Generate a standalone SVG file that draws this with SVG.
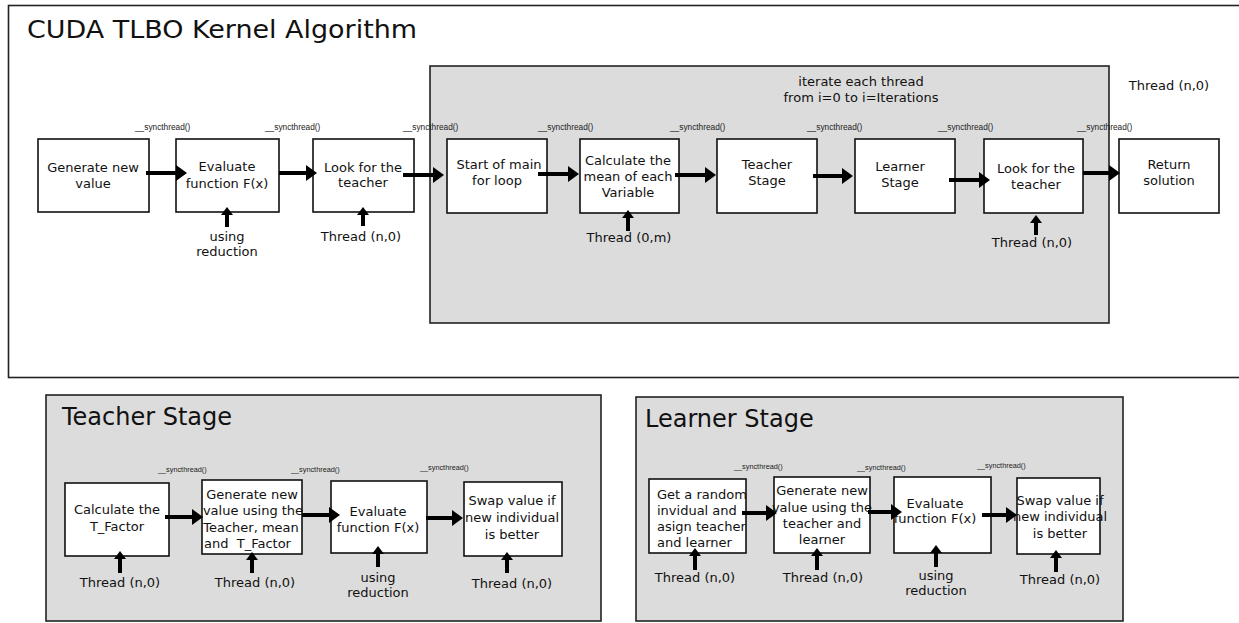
<svg xmlns="http://www.w3.org/2000/svg" width="1239" height="623" viewBox="0 0 1239 623">
<style>
.frame{fill:#fff;stroke:#222;stroke-width:1.6}
.panel{fill:#dcdcdc;stroke:#222;stroke-width:1.6}
.box{fill:#fff;stroke:#111;stroke-width:1.6}
.t{font-family:"DejaVu Sans",Verdana,sans-serif;font-size:13px;fill:#111;text-anchor:middle}
.tl{font-family:"DejaVu Sans",Verdana,sans-serif;font-size:13px;fill:#111;white-space:pre}
.big{font-family:"DejaVu Sans",Verdana,sans-serif;font-size:24px;fill:#111}
.s{font-family:"Liberation Sans",Arial,sans-serif;font-size:8.3px;fill:#222}
.ss{font-family:"Liberation Sans",Arial,sans-serif;font-size:7.3px;fill:#222}
.ar{stroke:#000;stroke-width:4;fill:none;marker-end:url(#ah)}
.up{stroke:#000;stroke-width:4;fill:none;marker-end:url(#uh)}
</style>
<defs>
<marker id="ah" markerUnits="userSpaceOnUse" markerWidth="11" markerHeight="16" refX="0" refY="8" orient="auto"><path d="M0,0 L11,8 L0,16 z" fill="#000"/></marker>
<marker id="uh" markerUnits="userSpaceOnUse" markerWidth="8" markerHeight="12" refX="0" refY="6" orient="auto"><path d="M0,0 L8,6 L0,12 z" fill="#000"/></marker>
</defs>
<rect class="frame" x="8.5" y="5.5" width="1232" height="372"/>
<text class="big" x="27" y="38" font-size="25" textLength="390" lengthAdjust="spacingAndGlyphs">CUDA TLBO Kernel Algorithm</text>
<g id="loop"><rect class="panel" x="430" y="66" width="679" height="257"/>
<text class="t" x="861" y="86">iterate each thread</text>
<text class="t" x="861" y="102">from i=0 to i=Iterations</text></g>
<text class="t" x="1169" y="90">Thread (n,0)</text>
<g id="n1"><rect class="box" x="38" y="139" width="111" height="73"/><text class="t" x="93" y="172">Generate new</text><text class="t" x="93" y="188">value</text></g>
<g id="n2"><rect class="box" x="176" y="139" width="103" height="73"/><text class="t" x="227" y="171">Evaluate</text><text class="t" x="227" y="188">function F(x)</text></g>
<g id="n3"><rect class="box" x="313" y="139" width="101" height="73"/><text class="t" x="363" y="172">Look for the</text><text class="t" x="363" y="187">teacher</text></g>
<g id="n4"><rect class="box" x="447" y="139" width="100" height="74"/><text class="t" x="499" y="169">Start of main</text><text class="t" x="497" y="185">for loop</text></g>
<g id="n5"><rect class="box" x="580" y="139" width="99" height="74"/><text class="t" x="628" y="165">Calculate the</text><text class="t" x="628" y="181">mean of each</text><text class="t" x="628" y="197">Variable</text></g>
<g id="n6"><rect class="box" x="717" y="139" width="100" height="74"/><text class="t" x="767" y="169">Teacher</text><text class="t" x="767" y="185">Stage</text></g>
<g id="n7"><rect class="box" x="855" y="139" width="100" height="74"/><text class="t" x="900" y="171">Learner</text><text class="t" x="900" y="187">Stage</text></g>
<g id="n8"><rect class="box" x="984" y="139" width="99" height="74"/><text class="t" x="1036" y="173">Look for the</text><text class="t" x="1036" y="189">teacher</text></g>
<g id="n9"><rect class="box" x="1119" y="139" width="100" height="74"/><text class="t" x="1169" y="169">Return</text><text class="t" x="1169" y="185">solution</text></g>
<g id="labels-main">
<text class="t" x="227" y="241">using</text><text class="t" x="227" y="256">reduction</text>
<text class="t" x="361" y="241">Thread (n,0)</text>
<text class="t" x="629" y="242">Thread (0,m)</text>
<text class="t" x="1032" y="247">Thread (n,0)</text>
<text class="s" x="135" y="130">__syncthread()</text>
<text class="s" x="265" y="130">__syncthread()</text>
<text class="s" x="403" y="130">__syncthread()</text>
<text class="s" x="538" y="130">__syncthread()</text>
<text class="s" x="670" y="130">__syncthread()</text>
<text class="s" x="807" y="130">__syncthread()</text>
<text class="s" x="938" y="130">__syncthread()</text>
<text class="s" x="1077" y="130">__syncthread()</text>
</g>
<g id="teacher-panel"><rect class="panel" x="46" y="395" width="555" height="226"/>
<text class="big" x="62" y="425">Teacher Stage</text></g>
<g id="t1"><rect class="box" x="65" y="483" width="104" height="73"/><text class="t" x="117" y="514">Calculate the</text><text class="t" x="117" y="531">T_Factor</text></g>
<g id="t2"><rect class="box" x="202" y="480" width="100" height="74"/><text class="t" x="252" y="499">Generate new</text><text class="t" x="253" y="515">value using the</text><text class="t" x="251" y="532">Teacher, mean</text><text class="tl" x="204" y="548" xml:space="preserve">and  T_Factor</text></g>
<g id="t3"><rect class="box" x="331" y="481" width="96" height="72"/><text class="t" x="378" y="516">Evaluate</text><text class="t" x="378" y="532">function F(x)</text></g>
<g id="t4"><rect class="box" x="464" y="482" width="98" height="74"/><text class="t" x="512" y="505">Swap value if</text><text class="t" x="512" y="522">new individual</text><text class="t" x="512" y="539">is better</text></g>
<g id="labels-teacher">
<text class="t" x="120" y="587">Thread (n,0)</text>
<text class="t" x="255" y="587">Thread (n,0)</text>
<text class="t" x="378" y="582">using</text><text class="t" x="378" y="597">reduction</text>
<text class="t" x="512" y="588">Thread (n,0)</text>
<text class="ss" x="158" y="472">__syncthread()</text>
<text class="ss" x="291" y="472">__syncthread()</text>
<text class="ss" x="420" y="470">__syncthread()</text>
</g>
<g id="learner-panel"><rect class="panel" x="636" y="397" width="487" height="224"/>
<text class="big" x="645" y="427">Learner Stage</text></g>
<g id="l1"><rect class="box" x="649" y="479" width="97" height="74"/><text class="tl" x="657" y="499">Get a random</text><text class="tl" x="657" y="515">invidual and</text><text class="tl" x="657" y="531">asign teacher</text><text class="tl" x="657" y="547">and learner</text></g>
<g id="l2"><rect class="box" x="774" y="477" width="96" height="76"/><text class="t" x="822" y="495">Generate new</text><text class="t" x="822" y="512">value using the</text><text class="t" x="822" y="528">teacher and</text><text class="t" x="822" y="544">learner</text></g>
<g id="l3"><rect class="box" x="894" y="477" width="97" height="76"/><text class="t" x="935" y="508">Evaluate</text><text class="t" x="935" y="523">function F(x)</text></g>
<g id="l4"><rect class="box" x="1017" y="478" width="83" height="76"/><text class="t" x="1060" y="505">Swap value if</text><text class="t" x="1060" y="521">new individual</text><text class="t" x="1060" y="538">is better</text></g>
<g id="labels-learner">
<text class="t" x="695" y="582">Thread (n,0)</text>
<text class="t" x="823" y="582">Thread (n,0)</text>
<text class="t" x="936" y="580">using</text><text class="t" x="936" y="595">reduction</text>
<text class="t" x="1060" y="584">Thread (n,0)</text>
<text class="ss" x="734" y="469">__syncthread()</text>
<text class="ss" x="857" y="470">__syncthread()</text>
<text class="ss" x="977" y="468">__syncthread()</text>
</g>
<g id="connectors">
<line class="ar" x1="146" y1="173" x2="176" y2="173"/>
<line class="ar" x1="279" y1="173" x2="306" y2="173"/>
<line class="ar" x1="403" y1="175" x2="433" y2="175"/>
<line class="ar" x1="538" y1="174" x2="568" y2="174"/>
<line class="ar" x1="675" y1="175" x2="705" y2="175"/>
<line class="ar" x1="813" y1="176" x2="842" y2="176"/>
<line class="ar" x1="949" y1="180" x2="979" y2="180"/>
<line class="ar" x1="1083" y1="173" x2="1109" y2="173"/>
<line class="up" x1="227" y1="227" x2="227" y2="215"/>
<line class="up" x1="363" y1="226" x2="363" y2="215"/>
<line class="up" x1="628" y1="231" x2="628" y2="218"/>
<line class="up" x1="1036" y1="235" x2="1036" y2="223"/>
<line class="ar" x1="165" y1="517" x2="192" y2="517"/>
<line class="ar" x1="302" y1="515" x2="329" y2="515"/>
<line class="ar" x1="426" y1="518" x2="452" y2="518"/>
<line class="up" x1="120" y1="573" x2="120" y2="559"/>
<line class="up" x1="252" y1="573" x2="252" y2="560"/>
<line class="up" x1="378" y1="567" x2="378" y2="554"/>
<line class="up" x1="507" y1="573" x2="507" y2="560"/>
<line class="ar" x1="742" y1="513" x2="766" y2="513"/>
<line class="ar" x1="868" y1="512" x2="891" y2="512"/>
<line class="ar" x1="982" y1="515" x2="1006" y2="515"/>
<line class="up" x1="695" y1="570" x2="695" y2="556"/>
<line class="up" x1="817" y1="570" x2="817" y2="556"/>
<line class="up" x1="936" y1="567" x2="936" y2="553"/>
<line class="up" x1="1056" y1="572" x2="1056" y2="558"/>
</g>
</svg>
